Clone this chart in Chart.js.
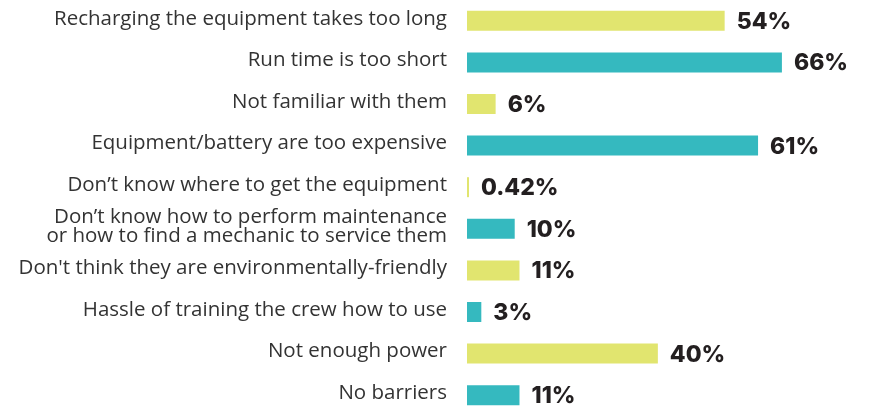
<!DOCTYPE html>
<html>
<head>
<meta charset="utf-8">
<script src="https://cdn.jsdelivr.net/npm/chart.js@4"></script>
<style>
  html, body { margin: 0; padding: 0; background: #fff; overflow: hidden; }
  #wrap { position: relative; width: 874px; height: 416px; }
</style>
</head>
<body>
<div id="wrap"><canvas id="bar-chart"></canvas></div>
<script>
// Datos del gráfico
const labels = [
  'Recharging the equipment takes too long',
  'Run time is too short',
  'Not familiar with them',
  'Equipment/battery are too expensive',
  'Don\u2019t know where to get the equipment',
  ['Don\u2019t know how to perform maintenance', 'or how to find a mechanic to service them'],
  "Don't think they are environmentally-friendly",
  'Hassle of training the crew how to use',
  'Not enough power',
  'No barriers'
];
const values = [54, 66, 6, 61, 0.42, 10, 11, 3, 40, 11];
const barColors = ['#e1e56f', '#35b9bf'];

// Etiquetas de valor al final de cada barra
const valueLabels = {
  id: 'valueLabels',
  afterDatasetsDraw(chart) {
    const ctx = chart.ctx;
    const meta = chart.getDatasetMeta(0);
    ctx.save();
    ctx.font = '800 23px Inter';
    ctx.fillStyle = '#231f20';
    ctx.textAlign = 'left';
    ctx.textBaseline = 'middle';
    meta.data.forEach((bar, i) => {
      ctx.fillText(values[i] + '%', bar.x + 12, bar.y + 1);
    });
    ctx.restore();
  }
};

const bar = new Chart(document.getElementById('bar-chart'), {
  type: 'bar',
  data: {
    labels: labels,
    datasets: [{
      data: values,
      backgroundColor: values.map((v, i) => barColors[i % 2]),
      barPercentage: 0.48,
      categoryPercentage: 1
    }]
  },
  options: {
    indexAxis: 'y',
    responsive: true,
    maintainAspectRatio: false,
    animation: false,
    layout: { padding: 0 },
    plugins: {
      legend: { display: false },
      tooltip: { enabled: false }
    },
    scales: {
      x: { display: false, min: 0, max: 85.3 },
      y: {
        grid: { display: false, drawTicks: false },
        border: { display: false },
        afterFit(scale) {
          scale.width = 467;
          scale.paddingTop = 0;
          scale.paddingBottom = 0;
        },
        ticks: {
          autoSkip: false,
          padding: 20,
          labelOffset: -2,
          color: '#333333',
          font: { family: 'Open Sans', size: 20.5, lineHeight: 0.95 }
        }
      }
    }
  },
  plugins: [valueLabels]
});
</script>
</body>
</html>
